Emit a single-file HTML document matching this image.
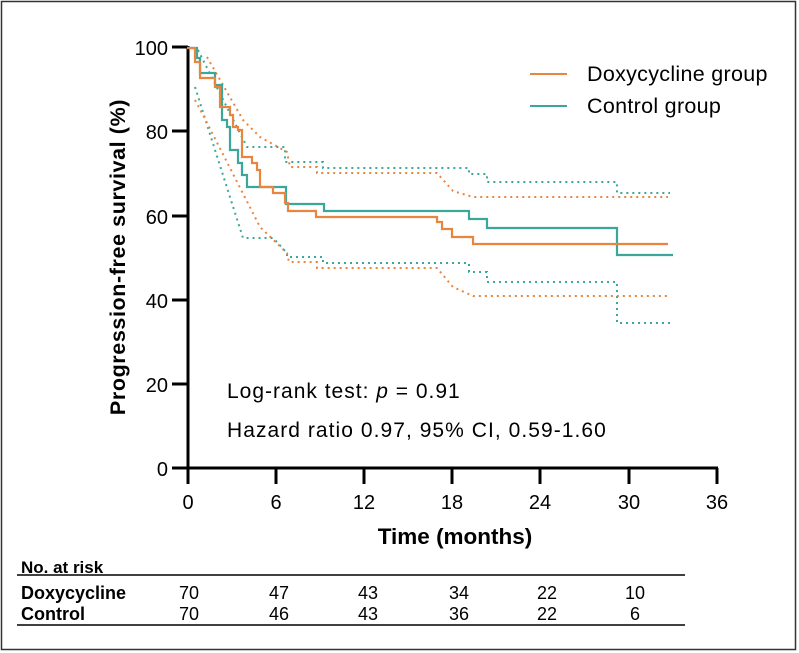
<!DOCTYPE html>
<html><head><meta charset="utf-8"><style>
body{margin:0;background:#fff;}
svg{display:block;font-family:"Liberation Sans",Arial,sans-serif;}
</style></head><body>
<svg width="799" height="653" viewBox="0 0 799 653" xmlns="http://www.w3.org/2000/svg">
<rect x="1.5" y="1.5" width="794" height="648" fill="none" stroke="#333" stroke-width="1.5"/>
<g stroke="#000" stroke-width="3" fill="none">
<line x1="188" y1="46" x2="188" y2="469"/>
<line x1="186.5" y1="468" x2="718" y2="468"/>
<line x1="172" y1="47" x2="188" y2="47"/>
<line x1="172" y1="131" x2="188" y2="131"/>
<line x1="172" y1="216" x2="188" y2="216"/>
<line x1="172" y1="300" x2="188" y2="300"/>
<line x1="172" y1="384" x2="188" y2="384"/>
<line x1="172" y1="468" x2="188" y2="468"/>
<line x1="188" y1="468" x2="188" y2="484"/>
<line x1="276" y1="468" x2="276" y2="484"/>
<line x1="364" y1="468" x2="364" y2="484"/>
<line x1="452" y1="468" x2="452" y2="484"/>
<line x1="540" y1="468" x2="540" y2="484"/>
<line x1="629" y1="468" x2="629" y2="484"/>
<line x1="717" y1="468" x2="717" y2="484"/>
</g>
<g font-size="20" text-anchor="end" fill="#000">
<text x="168" y="55">100</text><text x="168" y="139">80</text><text x="168" y="224">60</text>
<text x="168" y="308">40</text><text x="168" y="392">20</text><text x="168" y="476">0</text>
</g>
<g font-size="20" text-anchor="middle" fill="#000">
<text x="188" y="509">0</text><text x="276" y="509">6</text><text x="364" y="509">12</text>
<text x="452" y="509">18</text><text x="540" y="509">24</text><text x="629" y="509">30</text><text x="717" y="509">36</text>
</g>
<text x="455" y="544" font-size="22.5" font-weight="bold" text-anchor="middle">Time (months)</text>
<text transform="translate(125,257) rotate(-90)" font-size="21.5" font-weight="bold" text-anchor="middle" letter-spacing="0.6">Progression-free survival (%)</text>
<g fill="none" stroke-width="2" stroke-dasharray="2,4">
<polyline stroke="#3aa79a" points="198,50 247,147 285,147 285,162 323,162 323,168 469,168 469,174 487,174 487,182 617,182 617,193 670,193"/>
<polyline stroke="#3aa79a" points="195,87 243,238 273,238 287,253 287,257 323,257 323,263 469,263 469,272 487,272 487,282 617,282 617,323 670,323"/>
<polyline stroke="#e8853f" points="207,57 243,120 260,137 287,152 290,167 317,167 317,173 437,173 453,191 473,197 668,197"/>
<polyline stroke="#e8853f" points="195,100 203,115 260,227 287,253 289,262 317,262 317,268 437,268 453,287 473,296 668,296"/>
</g>
<polyline fill="none" stroke="#3aa79a" stroke-width="2.2" points="187,48 197,48 197,58 200,58 200,73 215,73 215,85 222,85 222,120 227,120 227,127 230,127 230,150 238,150 238,163 242,163 242,175 247,175 247,187 286,187 286,204 324,204 324,211 469,211 469,219 487,219 487,228 617,228 617,255 673,255"/>
<polyline fill="none" stroke="#e8853f" stroke-width="2.2" points="187,48 195,48 195,62 200,62 200,78 215,78 215,87 220,87 220,107 230,107 230,115 233,115 233,127 238,127 238,130 242,130 242,157 252,157 252,163 257,163 257,170 260,170 260,187 273,187 273,193 285,193 285,203 288,203 288,211 316,211 316,217 437,217 437,222 442,222 442,229 452,229 452,237 473,237 473,244 668,244"/>
<line x1="530" y1="74" x2="567" y2="74" stroke="#e8853f" stroke-width="2"/>
<text x="587" y="81" font-size="21.5" letter-spacing="0.3">Doxycycline group</text>
<line x1="530" y1="106" x2="567" y2="106" stroke="#3aa79a" stroke-width="2"/>
<text x="587" y="113" font-size="21.5" letter-spacing="0.3">Control group</text>
<text x="227" y="398" font-size="21" letter-spacing="1">Log-rank test: <tspan font-style="italic">p</tspan> = 0.91</text>
<text x="227" y="437" font-size="21" letter-spacing="1.05">Hazard ratio 0.97, 95% CI, 0.59-1.60</text>
<text x="21" y="573" font-size="17" font-weight="bold">No. at risk</text>
<line x1="17" y1="575" x2="685" y2="575" stroke="#000" stroke-width="1.5"/>
<g font-size="18">
<text x="21" y="599" font-weight="bold">Doxycycline</text>
<text x="21" y="620" font-weight="bold">Control</text>
<g text-anchor="middle">
<text x="189" y="599">70</text><text x="279" y="599">47</text><text x="368" y="599">43</text><text x="459" y="599">34</text><text x="547" y="599">22</text><text x="635" y="599">10</text>
<text x="189" y="620">70</text><text x="279" y="620">46</text><text x="368" y="620">43</text><text x="459" y="620">36</text><text x="547" y="620">22</text><text x="635" y="620">6</text>
</g></g>
<line x1="17" y1="625" x2="685" y2="625" stroke="#000" stroke-width="1.5"/>
</svg>
</body></html>
